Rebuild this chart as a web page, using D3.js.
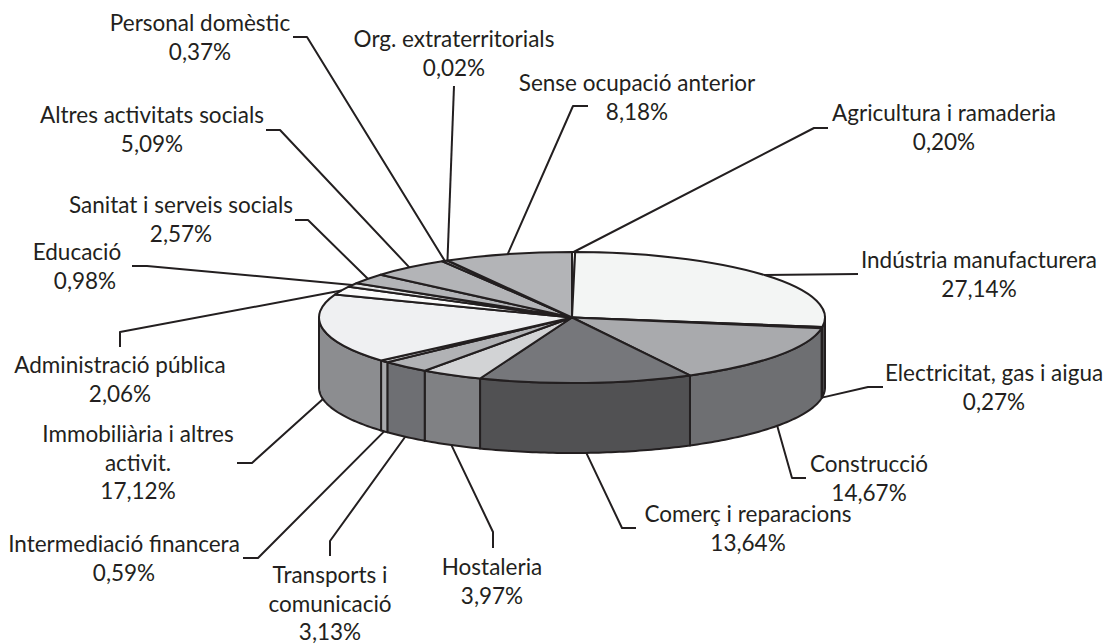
<!DOCTYPE html>
<html lang="ca">
<head>
<meta charset="utf-8">
<script src="https://cdnjs.cloudflare.com/ajax/libs/d3/7.8.5/d3.min.js"></script>
<style>
    html, body { margin: 0; padding: 0; background: #fff; }
    #chart { width: 1106px; height: 644px; }
    text { font-family: Lato, "Open Sans", sans-serif; font-size: 22.5px; fill: #231f20; text-anchor: middle; }
    .edge { stroke: #231f20; stroke-width: 2; stroke-linejoin: round; }
    .leader { fill: none; stroke: #231f20; stroke-width: 2; stroke-linejoin: round; }
</style>
</head>
<body>
<div id="chart"></div>
<script>
//Dades del gràfic (en sentit horari des de dalt)
const sectors = ['Agricultura i ramaderia', 'Indústria manufacturera', 'Electricitat, gas i aigua', 'Construcció',
    'Comerç i reparacions', 'Hostaleria', 'Transports i comunicació', 'Intermediació financera',
    'Immobiliària i altres activit.', 'Administració pública', 'Educació', 'Sanitat i serveis socials',
    'Altres activitats socials', 'Personal domèstic', 'Org. extraterritorials', 'Sense ocupació anterior'];
const percents = [0.20, 27.14, 0.27, 14.67, 13.64, 3.97, 3.13, 0.59, 17.12, 2.06, 0.98, 2.57, 5.09, 0.37, 0.02, 8.18];

//Colors fixos
const topColors = ['#f3f5f4', '#f3f5f4', '#a9aaad', '#a9aaad', '#76777b', '#d2d3d5', '#b1b2b5', '#c9cacc',
    '#eff0f2', '#fbfbfb', '#e6e7e8', '#b3b4b7', '#b3b4b7', '#b3b4b7', '#b3b4b7', '#b3b4b7'];
const sideColors = ['#6e6f72', '#6e6f72', '#77787b', '#6e6f72', '#515153', '#808184', '#6e6f73', '#a7a8ab',
    '#8c8d90', '#8c8d90', '#8c8d90', '#8c8d90', '#8c8d90', '#8c8d90', '#8c8d90', '#8c8d90'];

//Línies de text de cada etiqueta: centre, línia base i desplaçament del percentatge
const labelLines = [['Agricultura i ramaderia'], ['Indústria manufacturera'], ['Electricitat, gas i aigua'], ['Construcció'],
    ['Comerç i reparacions'], ['Hostaleria'], ['Transports i', 'comunicació'], ['Intermediació financera'],
    ['Immobiliària i altres', 'activit.'], ['Administració pública'], ['Educació'], ['Sanitat i serveis socials'],
    ['Altres activitats socials'], ['Personal domèstic'], ['Org. extraterritorials'], ['Sense ocupació anterior']];
const labelPos = [[944, 121, 0], [979, 268, 0], [994, 381, 0], [869, 472, 0], [748, 522, 0], [492, 575, 0], [330, 583, 0], [124, 552, 0],
    [138, 442, 0], [120, 373, 0], [77, 260, 8], [181, 213, 0], [152, 123, 0], [200, 31, 0], [454, 47, 0], [637, 91, 0]];

//Colzes de les línies guia, des del sector cap a l'etiqueta
const leaderElbows = [
    [[814, 128], [828, 128]], [[858, 274]], [[868, 387], [883, 387]], [[792, 478], [806, 478]],
    [[622, 528], [636, 528]], [[493, 532], [493, 548]], [[330, 541], [330, 556]], [[258, 558], [243, 558]],
    [[252, 463], [237, 463]], [[120, 332], [120, 347]], [[147, 266], [132, 266]], [[308, 220], [295, 220]],
    [[280, 130], [266, 130]], [[307, 37], [293, 37]], [[454, 86]], [[573, 106], [588, 106]]
];

const cx = 572, cy = 317.5, rx = 253, ry = 65.5, depth = 70;
const lineHeight = 28.5;

let svg = d3.select('#chart')
    .append('svg')
    .attr('width', 1106)
    .attr('height', 644);

let pie = d3.pie().sort(null).value(function(d) { return d; });
let arcs = pie(percents);

let px = function(a) { return cx + rx * Math.sin(a); };
let py = function(a) { return cy - ry * Math.cos(a); };

//Paret lateral: només la part frontal del pastís
let wallLine = d3.line();

function wallPath(d) {
    let a0 = Math.max(d.startAngle, Math.PI / 2),
        a1 = Math.min(d.endAngle, Math.PI * 3 / 2);
    if (a1 <= a0) return null;
    let n = Math.max(2, Math.ceil((a1 - a0) * 60));
    let angles = d3.range(n + 1).map(function(i) { return a0 + (a1 - a0) * i / n; });
    let upper = angles.map(function(a) { return [px(a), py(a)]; });
    let lower = angles.slice().reverse().map(function(a) { return [px(a), py(a) + depth]; });
    return wallLine(upper.concat(lower)) + 'Z';
}

svg.append('g')
    .selectAll('path')
    .data(arcs)
    .enter()
    .append('path')
    .attr('class', 'edge')
    .attr('d', wallPath)
    .attr('fill', function(d, i) { return sideColors[i]; });

//Cara superior
let arc = d3.arc().innerRadius(0).outerRadius(rx);

svg.append('g')
    .attr('transform', 'translate(' + cx + ',' + cy + ') scale(1,' + (ry / rx) + ')')
    .selectAll('path')
    .data(arcs)
    .enter()
    .append('path')
    .attr('class', 'edge')
    .attr('vector-effect', 'non-scaling-stroke')
    .attr('d', arc)
    .attr('fill', function(d, i) { return topColors[i]; });

//Línies guia: surten de l'angle mig de cada sector
let leaderLine = d3.line();

svg.append('g')
    .selectAll('path')
    .data(arcs)
    .enter()
    .append('path')
    .attr('class', 'leader')
    .attr('d', function(d, i) {
        let mid = (d.startAngle + d.endAngle) / 2;
        let front = mid > Math.PI / 2 && mid < Math.PI * 3 / 2;
        let start = [px(mid), py(mid) + (front ? depth : 0)];
        return leaderLine([start].concat(leaderElbows[i]));
    });

//Etiquetes
let labels = svg.append('g')
    .selectAll('text')
    .data(arcs)
    .enter()
    .append('text')
    .attr('transform', function(d, i) { return 'translate(' + labelPos[i][0] + ',' + labelPos[i][1] + ')'; });

labels.selectAll('tspan')
    .data(function(d, i) {
        let names = labelLines[i].map(function(t) { return {text: t, dx: 0}; });
        return names.concat({text: percents[i].toFixed(2).replace('.', ',') + '%', dx: labelPos[i][2]});
    })
    .enter()
    .append('tspan')
    .attr('x', function(d) { return d.dx; })
    .attr('y', function(d, i) { return i * lineHeight; })
    .text(function(d) { return d.text; });
</script>
</body>
</html>
